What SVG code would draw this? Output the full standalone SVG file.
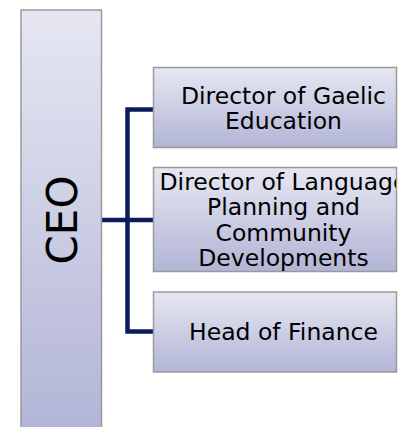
<svg xmlns="http://www.w3.org/2000/svg" width="401" height="427" viewBox="0 0 401 427">
  <defs>
    <linearGradient id="boxFill" x1="0" y1="0" x2="0" y2="1">
      <stop offset="0" stop-color="#e6e7f2"/>
      <stop offset="1" stop-color="#b2b5d6"/>
    </linearGradient>
    <linearGradient id="ceoFill" x1="0" y1="10" x2="0" y2="430" gradientUnits="userSpaceOnUse">
      <stop offset="0" stop-color="#e6e7f2"/>
      <stop offset="1" stop-color="#b2b5d6"/>
    </linearGradient>
    <clipPath id="clip2">
      <rect x="154" y="168" width="242" height="103"/>
    </clipPath>
    <style>
      .box { fill: url(#boxFill); stroke: #9a9a9a; stroke-width: 1.5; }
      .ceo { fill: url(#ceoFill); stroke: #9a9a9a; stroke-width: 1.5; }
      .label { font-family: "DejaVu Sans", Verdana, sans-serif; font-size: 23.5px; fill: #000; text-anchor: middle; }
      .ceo-label { font-family: "DejaVu Sans", Verdana, sans-serif; font-size: 42px; fill: #000; text-anchor: middle; }
      .link { fill: none; stroke: #0d1b5a; stroke-width: 4.5; stroke-linejoin: miter; }
    </style>
  </defs>
  <rect width="401" height="427" fill="#fff"/>

  <!-- connectors -->
  <g id="connectors">
    <path class="link" d="M101 220 H154"/>
    <path class="link" d="M154 109.5 H127.5 V331.5 H154"/>
  </g>

  <g id="ceo">
    <rect class="ceo" x="21" y="10" width="80.5" height="430"/>
    <text class="ceo-label" transform="translate(77 220) rotate(-90)" x="0" y="0">CEO</text>
  </g>

  <g id="gaelic-education">
    <rect class="box" x="153.5" y="67.5" width="243" height="80"/>
    <text class="label" x="283.5" y="103.5">Director of Gaelic</text>
    <text class="label" x="283.5" y="129">Education</text>
  </g>

  <g id="language-planning">
    <rect class="box" x="153.5" y="167.5" width="243" height="104"/>
    <g clip-path="url(#clip2)">
      <text class="label" x="283.5" y="190">Director of Language</text>
      <text class="label" x="283.5" y="215">Planning and</text>
      <text class="label" x="283.5" y="240.5">Community</text>
      <text class="label" x="283.5" y="266">Developments</text>
    </g>
  </g>

  <g id="finance">
    <rect class="box" x="153.5" y="292" width="243" height="80"/>
    <text class="label" x="283.5" y="339.5">Head of Finance</text>
  </g>
</svg>
